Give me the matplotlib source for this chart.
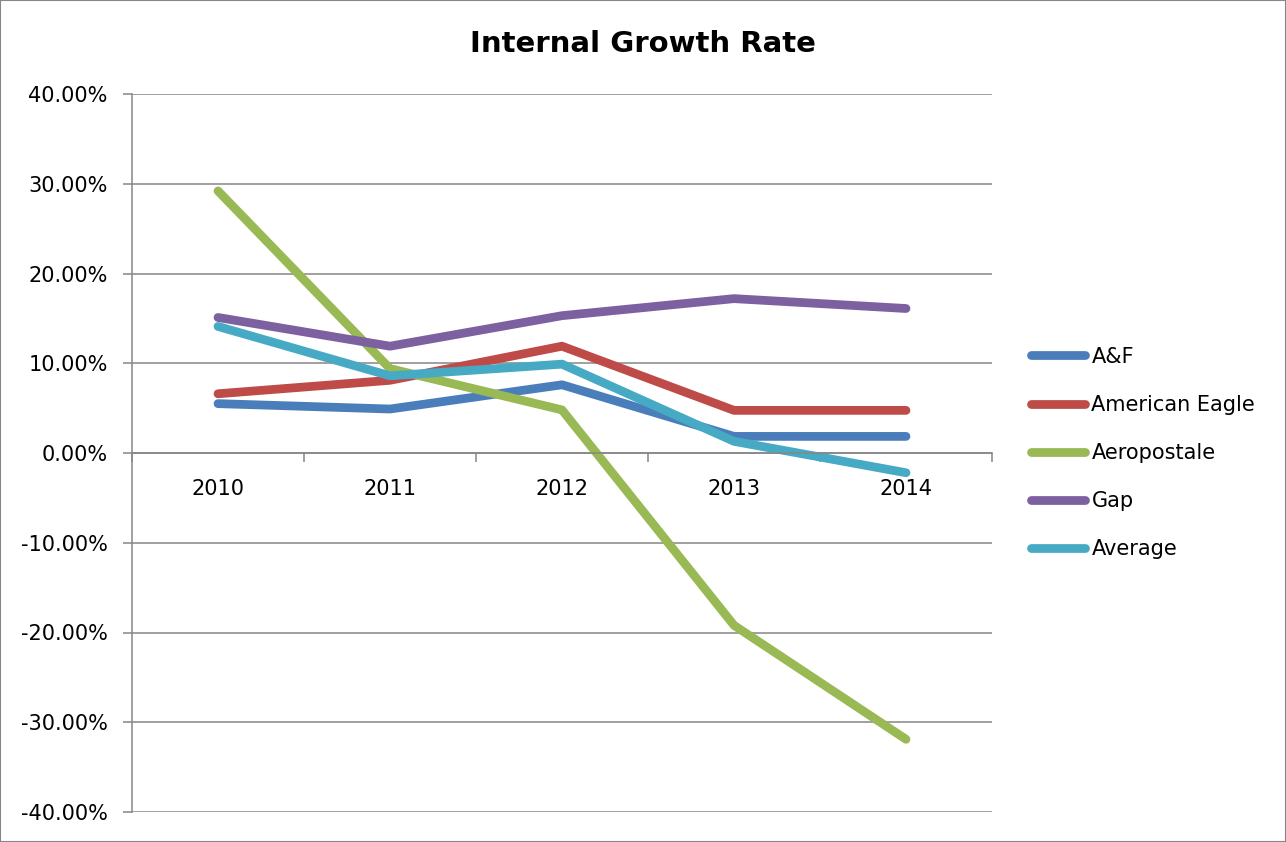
import numpy as np
import matplotlib
matplotlib.use("Agg")
import matplotlib.pyplot as plt
from matplotlib.patches import Rectangle
from matplotlib.ticker import FuncFormatter, FixedLocator

years = ["2010", "2011", "2012", "2013", "2014"]
af = [5.5, 4.9, 7.6, 1.85, 1.85]
american_eagle = [6.6, 8.1, 11.9, 4.75, 4.75]
aeropostale = [29.2, 9.4, 4.8, -19.2, -31.9]
gap = [15.1, 11.9, 15.3, 17.2, 16.1]
average = [14.1, 8.6, 9.9, 1.3, -2.2]

series = [
    ("A&F", af, "#4A7EBB"),
    ("American Eagle", american_eagle, "#BE4B48"),
    ("Aeropostale", aeropostale, "#98B954"),
    ("Gap", gap, "#7D60A0"),
    ("Average", average, "#46AAC5"),
]

plt.rcParams["font.family"] = ["DejaVu Sans"]
plt.rcParams["lines.solid_capstyle"] = "round"
plt.rcParams["lines.solid_joinstyle"] = "round"

W, H = 1286, 842
fig = plt.figure(figsize=(W / 100, H / 100), dpi=100)
ax = fig.add_axes([132 / W, 1 - 812 / H, (992 - 132) / W, (812 - 94) / H])

x = np.arange(len(years))
for name, vals, col in series:
    ax.plot(x, vals, color=col, lw=6.3, label=name)

grid_col = "#868686"
ax.set_xlim(-0.5, len(years) - 0.5)
ax.set_ylim(-40, 40)
ax.set_yticks(np.arange(-40, 41, 10))
ax.yaxis.set_major_formatter(FuncFormatter(lambda v, p: "%.2f%%" % v))
ax.grid(axis="y", color=grid_col, lw=1.1)
ax.set_axisbelow(True)

# x axis crosses at zero, ticks between categories
ax.spines["bottom"].set_position(("data", 0))
ax.spines["top"].set_visible(False)
ax.spines["right"].set_visible(False)
for s in ("left", "bottom"):
    ax.spines[s].set_color(grid_col)
    ax.spines[s].set_linewidth(1.1)
ax.xaxis.set_major_locator(FixedLocator(np.arange(-0.5, len(years), 1.0)))
ax.xaxis.set_major_formatter(FuncFormatter(lambda v, p: ""))
ax.xaxis.set_minor_locator(FixedLocator(x))
ax.xaxis.set_minor_formatter(FuncFormatter(lambda v, p: years[int(round(v))]))
ax.tick_params(axis="x", which="major", direction="out", length=6.5, width=1.1, color=grid_col)
ax.tick_params(axis="x", which="minor", length=0, pad=19, labelsize=15)
ax.tick_params(axis="y", direction="out", length=6.5, width=1.1, color=grid_col, pad=11, labelsize=15)

fig.text(0.5, 1 - 44 / H, "Internal Growth Rate", ha="center", va="center",
         fontsize=21, fontweight="bold")

leg = fig.legend(loc="center left", bbox_to_anchor=(1031 / W, 1 - 453 / H), frameon=False,
                 fontsize=15, handlelength=2.6, handletextpad=0.3, labelspacing=1.35,
                 borderpad=0, borderaxespad=0)

fig.patches.append(Rectangle((0, 0), 1, 1, transform=fig.transFigure, fill=False,
                             edgecolor=grid_col, lw=1.5))

fig.savefig("out.png", dpi=100)
